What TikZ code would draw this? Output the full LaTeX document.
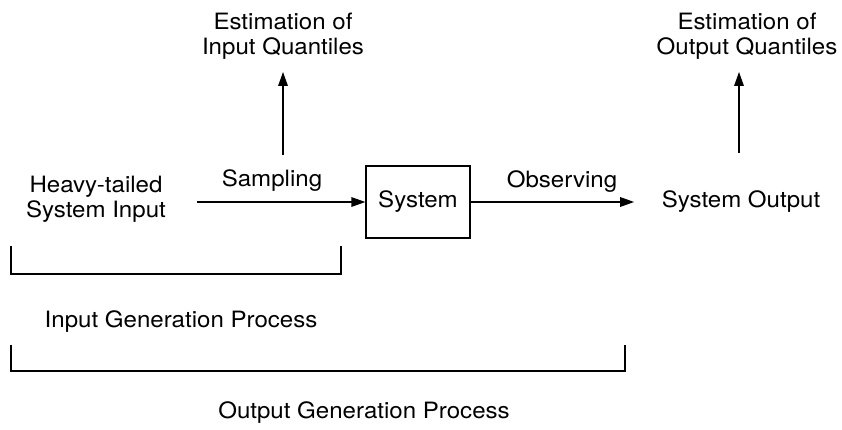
\documentclass[tikz,border=0pt]{standalone}
\usepackage{fontspec}
\setmainfont[FakeStretch=1.07]{TeX Gyre Heros}
\usetikzlibrary{arrows.meta,positioning}

\begin{document}
\begin{tikzpicture}[
  font=\fontsize{16}{18}\selectfont,
  line width=0.9pt,
  lbl/.style={align=center, inner sep=0pt},
  blk/.style={draw, minimum width=2.6cm, minimum height=1.8cm, inner sep=0pt},
  flow/.style={-{Triangle[length=0.35cm, width=0.24cm]}}
]
\useasboundingbox (0,0) rectangle (21.05,10.725);

\node[lbl] (estin) at (7.075,9.825) {Estimation of\\Input Quantiles};
\node[lbl] (estout) at (18.675,9.825) {Estimation of\\Output Quantiles};
\node[lbl] (heavy) at (2.4,5.75) {Heavy-tailed\\System Input};
\node[lbl] (samp) at (6.8,6.2) {Sampling};
\node[blk] (sys) at (10.45,5.675) {System};
\node[lbl] (obs) at (14.05,6.175) {Observing};
\node[lbl] (sysout) at (18.525,5.675) {System Output};
\node[lbl] (ingen) at (4.525,2.675) {Input Generation Process};
\node[lbl] (outgen) at (9.1,0.4) {Output Generation Process};

\coordinate (sampin) at (4.925,5.675);
\coordinate (sampup) at (7.075,6.85);
\coordinate (outup) at (18.475,6.9);

\draw[flow] (sampin) -- (sys);
\draw[flow, shorten >=0.675cm] (sys) -- (sysout);
\draw[flow, shorten >=0.3cm] (sampup) -- (sampup |- estin.south);
\draw[flow, shorten >=0.3cm] (outup) -- (outup |- estout.south);

% brackets
\draw (0.275,4.575) -- (0.275,3.875) -- (8.525,3.875) -- (8.525,4.575);
\draw (0.275,2.1) -- (0.275,1.45) -- (15.625,1.45) -- (15.625,2.1);
\end{tikzpicture}
\end{document}
